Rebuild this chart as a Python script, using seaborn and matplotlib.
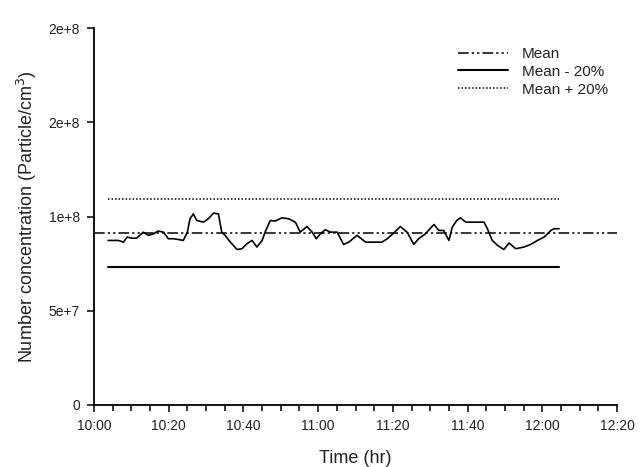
import pandas as pd
import matplotlib
matplotlib.use("Agg")
import matplotlib.pyplot as plt
import seaborn as sns
from matplotlib.ticker import MultipleLocator

# time after 10:00 (min) and measured number concentration (x 1e7 particles/cm3)
elapsed_min = [3.8, 6.5, 7.9, 8.9, 10.1, 11.4, 13.2, 14.6, 15.9, 17.2, 18.6, 19.9,
               21.3, 22.6, 23.9, 25.0, 25.7, 26.6, 27.5, 29.3, 30.6, 32.0, 33.3,
               34.2, 35.1, 36.5, 38.3, 39.6, 40.9, 42.3, 43.6, 45.0, 45.8, 47.2,
               48.5, 50.3, 52.1, 53.9, 55.2, 57.0, 58.4, 59.5, 60.6, 61.9, 63.3,
               65.1, 66.8, 68.2, 70.4, 72.7, 77.1, 78.5, 80.2, 82.0, 83.8, 85.6,
               86.9, 88.7, 91.0, 92.3, 93.6, 95.0, 95.9, 97.1, 98.1, 99.5, 104.4,
               105.3, 106.6, 108.0, 109.7, 111.1, 112.9, 115.1, 116.9, 118.7,
               120.5, 122.3, 123.1, 124.5]
conc_1e7 = [8.73, 8.73, 8.64, 8.91, 8.85, 8.85, 9.17, 9.00, 9.08, 9.23, 9.17, 8.82,
            8.82, 8.78, 8.73, 9.17, 9.88, 10.14, 9.79, 9.70, 9.88, 10.18, 10.14,
            9.17, 9.00, 8.64, 8.25, 8.29, 8.55, 8.73, 8.38, 8.73, 9.17, 9.79,
            9.76, 9.93, 9.88, 9.70, 9.17, 9.47, 9.17, 8.82, 9.08, 9.30, 9.17,
            9.17, 8.52, 8.64, 9.00, 8.64, 8.64, 8.82, 9.12, 9.47, 9.17, 8.52,
            8.82, 9.08, 9.58, 9.26, 9.26, 8.73, 9.44, 9.79, 9.93, 9.70, 9.70,
            9.35, 8.73, 8.47, 8.25, 8.59, 8.29, 8.38, 8.52, 8.73,
            8.91, 9.26, 9.35, 9.35]

mean_conc = 9.12e7
mean_span = [0, 140]
band_span = [3.8, 124.5]

x_tick_labels = ["10:00", "10:20", "10:40", "11:00", "11:20", "11:40", "12:00", "12:20"]
y_tick_values = [0, 5e7, 1e8, 1.5e8, 2e8]
y_tick_labels = ["0", "5e+7", "1e+8", "2e+8", "2e+8"]

df = pd.DataFrame({"Time": elapsed_min, "Conc": [c * 1e7 for c in conc_1e7]})

sns.set_style("ticks")
plt.rcParams['font.family'] = ['Liberation Sans', 'DejaVu Sans']
txt = '#222222'

fig = plt.figure(figsize=(6.42, 4.67), dpi=100)
ax = fig.add_axes([0.1464, 0.1328, 0.8147, 0.8072])

sns.lineplot(data=df, x="Time", y="Conc", ax=ax, color='black', lw=1.2)

h_mean, = ax.plot(mean_span, [mean_conc] * 2, color='black', lw=1.1,
                  linestyle=(0, (7, 2, 1.5, 2, 1.5, 2)), label='Mean')
h_low, = ax.plot(band_span, [mean_conc * 0.8] * 2, color='black', lw=1.5,
                 label='Mean - 20%')
h_high, = ax.plot(band_span, [mean_conc * 1.2] * 2, color='black', lw=1.1,
                  linestyle=(0, (1, 1.3)), label='Mean + 20%')

ax.set_xlim(0, 140)
ax.set_ylim(0, 2e8)
ax.set_xticks(range(0, 141, 20))
ax.set_xticklabels(x_tick_labels)
ax.xaxis.set_minor_locator(MultipleLocator(5))
ax.set_yticks(y_tick_values)
ax.set_yticklabels(y_tick_labels)

ax.tick_params(axis='both', which='major', length=5, width=1.1, colors='black',
               labelsize=10, labelcolor=txt, direction='out', pad=5)
ax.tick_params(axis='x', which='minor', length=4, width=1.1, colors='black')

ax.set_xlabel('Time (hr)', fontsize=13, color=txt, labelpad=12)
ax.set_ylabel('Number concentration (Particle/cm$^3$)', fontsize=13, color=txt,
              labelpad=7)

ax.spines['top'].set_visible(False)
ax.spines['right'].set_visible(False)
for s in ['left', 'bottom']:
    ax.spines[s].set_linewidth(1.3)
    ax.spines[s].set_color('black')

ax.legend(handles=[h_mean, h_low, h_high], loc='upper left',
          bbox_to_anchor=(0.696, 0.95), frameon=False, fontsize=11,
          handlelength=3.3, handletextpad=0.9, labelspacing=0.25,
          borderpad=0, borderaxespad=0, labelcolor=txt)

fig.savefig('out.png', dpi=100)
